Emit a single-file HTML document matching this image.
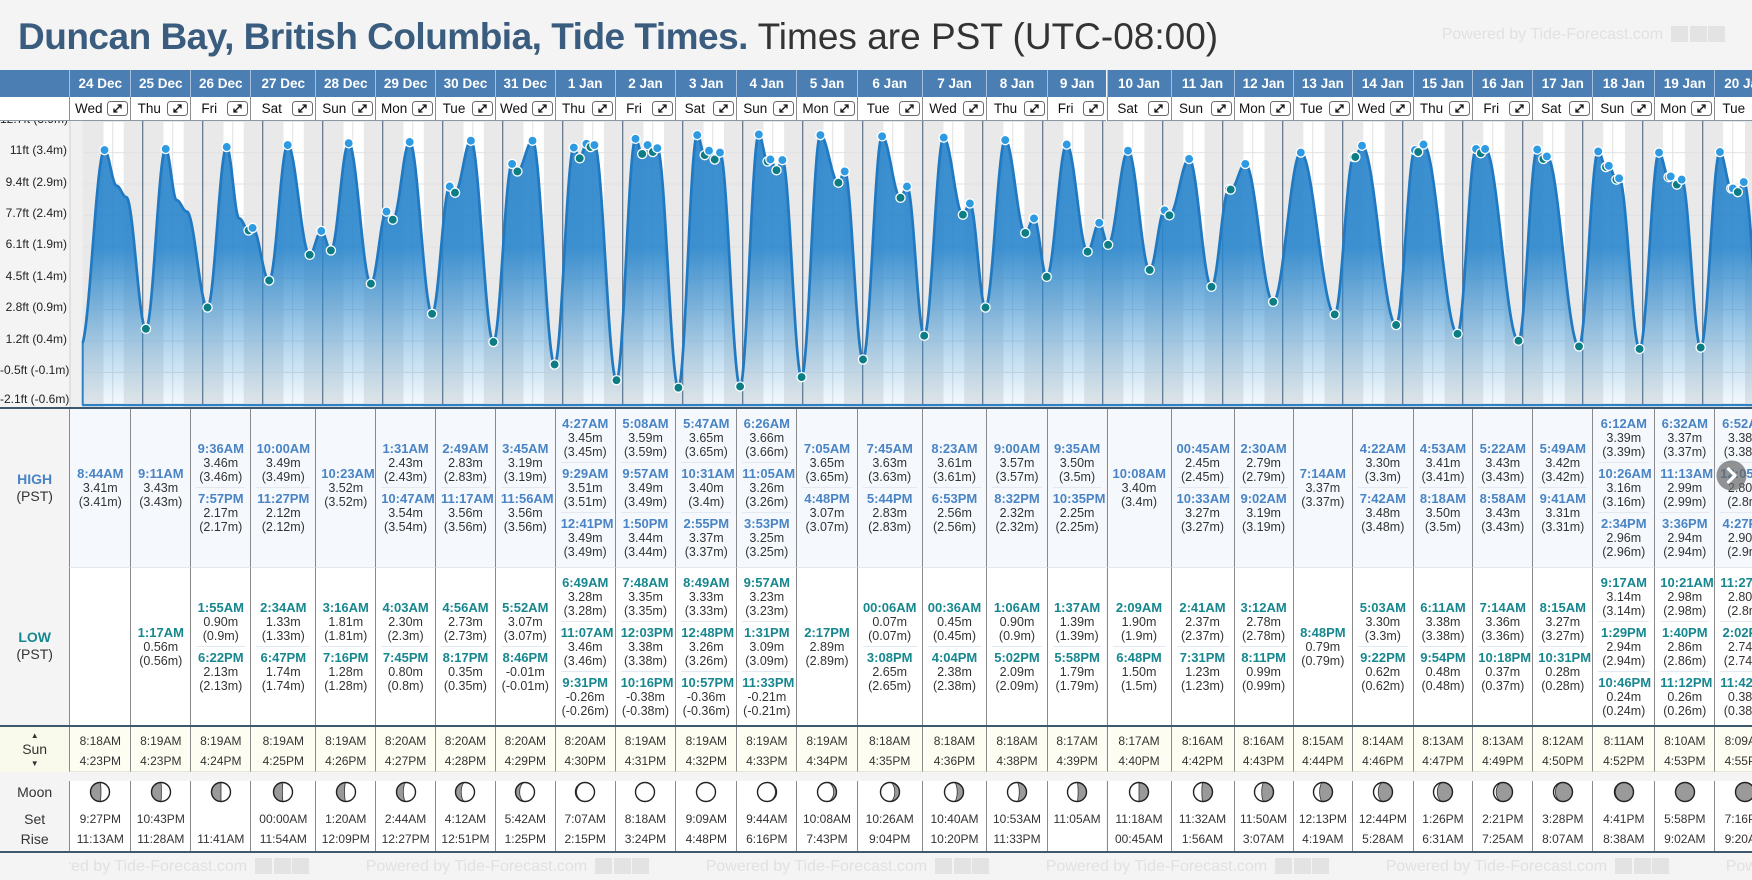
<!DOCTYPE html>
<html><head><meta charset="utf-8"><title>Duncan Bay Tide Times</title>
<style>
html,body{margin:0;padding:0}
body{width:1752px;height:880px;overflow:hidden;background:#f4f4f4;font-family:"Liberation Sans",Arial,sans-serif;position:relative}
.ab{position:absolute}
#title{left:18px;top:18px;height:37px;line-height:37px;font-size:37px;white-space:nowrap}
#title b{color:#3a5c7e;letter-spacing:-0.5px}
#title span{color:#333}
.wm{position:absolute;font-size:16px;color:#e1e1e1;white-space:nowrap;height:18px;line-height:18px}
.wm i{display:inline-block;width:17px;height:16px;background:#e3e3e3;vertical-align:-3px;margin-left:1.5px}
.wm i:first-of-type{margin-left:8px}
.yl{position:absolute;left:0;width:67px;text-align:right;font-size:12px;line-height:14px;height:14px;color:#222;white-space:nowrap}
.col{position:absolute;top:70px}
.dt{height:27px;line-height:27px;background:#4b7fb3;color:#fff;font-weight:bold;font-size:13.5px;text-align:center;border-left:1px solid #a3bfdb;box-sizing:border-box;white-space:nowrap;overflow:hidden}
.dy{height:24px;background:#fff;border-left:1px solid #8e8e8e;border-bottom:1px solid #8a99a6;box-sizing:border-box;display:flex;align-items:center;font-size:13.5px;color:#111}
.dy span{flex:1;text-align:center;white-space:nowrap}
.bt{width:21px;height:15px;margin-right:2px;flex:none;display:block}
.sp{height:287px}
.hi{height:159px;background:#f5f9fd;border-left:1px solid #8a8a8a;box-sizing:border-box;display:flex;flex-direction:column;justify-content:center}
.lo{height:158px;background:#fff;border-left:1px solid #8a8a8a;border-top:1px solid #e3e9ef;box-sizing:border-box;display:flex;flex-direction:column;justify-content:center}
.e{margin:0 5px;padding:4px 0 3px;text-align:center;font-size:12.5px;line-height:14px;color:#333;white-space:nowrap}
.e+.e{border-top:1px solid #e2e9f0}
.e b{display:block;font-size:13px}
.hi .e b{color:#4a84c4}
.lo .e b{color:#17878f}
.g2{height:2px}
.sn{height:45px;background:#fdfdf1;border-left:1px solid #8a8a8a;border-bottom:1px solid #e8e8d8;box-sizing:border-box;font-size:12px;line-height:20px;padding-top:4px;text-align:center;color:#333;white-space:nowrap}
.mo{height:79px;background:#fff;border-left:1px solid #8a8a8a;box-sizing:border-box;text-align:center;font-size:12px;line-height:20px;color:#333;white-space:nowrap}
.mo i{display:block;height:22px;width:22px;margin:9px auto 6px}
.lb{position:absolute;left:0;width:69.3px;display:flex;flex-direction:column;justify-content:center;align-items:center;font-size:14px;line-height:17px;color:#333;background:#f4f4f4;text-align:center}
.dl{position:absolute;left:0;width:1752px;height:2px;background:#3e5870}
</style></head><body>

<svg id="ch" class="ab" style="left:0;top:0" width="1752" height="880"></svg>

<div id="title" class="ab"><b>Duncan Bay, British Columbia, Tide Times.</b> <span>Times are PST (UTC-08:00)</span></div>
<div class="wm" style="left:1441.7px;top:26px">Powered by Tide-Forecast.com<i></i><i></i><i></i></div>

<div class="yl" style="top:111.7px">12.7ft (3.9m)</div>
<div class="yl" style="top:143.1px">11ft (3.4m)</div>
<div class="yl" style="top:174.5px">9.4ft (2.9m)</div>
<div class="yl" style="top:205.9px">7.7ft (2.4m)</div>
<div class="yl" style="top:237.3px">6.1ft (1.9m)</div>
<div class="yl" style="top:268.7px">4.5ft (1.4m)</div>
<div class="yl" style="top:300.1px">2.8ft (0.9m)</div>
<div class="yl" style="top:331.5px">1.2ft (0.4m)</div>
<div class="yl" style="top:362.9px">-0.5ft (-0.1m)</div>
<div class="yl" style="top:392.3px">-2.1ft (-0.6m)</div>

<div class="ab" style="left:0;top:70px;width:69.3px;height:27px;background:#4b7fb3"></div>
<div class="ab" style="left:0;top:97px;width:69.3px;height:24px;background:#fff;border-bottom:1px solid #8a99a6;box-sizing:border-box"></div>

<div class="lb" style="top:408px;height:159px"><b style="color:#4a84c4">HIGH</b><span>(PST)</span></div>
<div class="lb" style="top:567px;height:158px"><b style="color:#17878f">LOW</b><span>(PST)</span></div>
<div class="lb" style="top:727px;height:45px;background:#fafaec;line-height:11px"><span style="font-size:8px">&#9650;</span><span style="font-size:14px;line-height:17px">Sun</span><span style="font-size:8px">&#9660;</span></div>
<div class="lb" style="top:772px;height:79px;justify-content:flex-start;line-height:20px"><span style="margin-top:10px">Moon</span><span style="margin-top:7px">Set</span><span>Rise</span></div>

<div class="col" style="left:69.3px;width:61px"><div class="dt">24 Dec</div><div class="dy"><span>Wed</span><i class="bt"></i></div><div class="sp"></div><div class="hi"><div class="e"><b>8:44AM</b>3.41m<br>(3.41m)</div></div><div class="lo"></div><div class="g2"></div><div class="sn">8:18AM<br>4:23PM</div><div class="mo"><i class="m"></i>9:27PM<br>11:13AM</div></div>

<div class="col" style="left:130.3px;width:60px"><div class="dt">25 Dec</div><div class="dy"><span>Thu</span><i class="bt"></i></div><div class="sp"></div><div class="hi"><div class="e"><b>9:11AM</b>3.43m<br>(3.43m)</div></div><div class="lo"><div class="e"><b>1:17AM</b>0.56m<br>(0.56m)</div></div><div class="g2"></div><div class="sn">8:19AM<br>4:23PM</div><div class="mo"><i class="m"></i>10:43PM<br>11:28AM</div></div>

<div class="col" style="left:190.3px;width:60px"><div class="dt">26 Dec</div><div class="dy"><span>Fri</span><i class="bt"></i></div><div class="sp"></div><div class="hi"><div class="e"><b>9:36AM</b>3.46m<br>(3.46m)</div><div class="e"><b>7:57PM</b>2.17m<br>(2.17m)</div></div><div class="lo"><div class="e"><b>1:55AM</b>0.90m<br>(0.9m)</div><div class="e"><b>6:22PM</b>2.13m<br>(2.13m)</div></div><div class="g2"></div><div class="sn">8:19AM<br>4:24PM</div><div class="mo"><i class="m"></i>&nbsp;<br>11:41AM</div></div>

<div class="col" style="left:250.3px;width:65px"><div class="dt">27 Dec</div><div class="dy"><span>Sat</span><i class="bt"></i></div><div class="sp"></div><div class="hi"><div class="e"><b>10:00AM</b>3.49m<br>(3.49m)</div><div class="e"><b>11:27PM</b>2.12m<br>(2.12m)</div></div><div class="lo"><div class="e"><b>2:34AM</b>1.33m<br>(1.33m)</div><div class="e"><b>6:47PM</b>1.74m<br>(1.74m)</div></div><div class="g2"></div><div class="sn">8:19AM<br>4:25PM</div><div class="mo"><i class="m"></i>00:00AM<br>11:54AM</div></div>

<div class="col" style="left:315.3px;width:59.9px"><div class="dt">28 Dec</div><div class="dy"><span>Sun</span><i class="bt"></i></div><div class="sp"></div><div class="hi"><div class="e"><b>10:23AM</b>3.52m<br>(3.52m)</div></div><div class="lo"><div class="e"><b>3:16AM</b>1.81m<br>(1.81m)</div><div class="e"><b>7:16PM</b>1.28m<br>(1.28m)</div></div><div class="g2"></div><div class="sn">8:19AM<br>4:26PM</div><div class="mo"><i class="m"></i>1:20AM<br>12:09PM</div></div>

<div class="col" style="left:375.2px;width:59.8px"><div class="dt">29 Dec</div><div class="dy"><span>Mon</span><i class="bt"></i></div><div class="sp"></div><div class="hi"><div class="e"><b>1:31AM</b>2.43m<br>(2.43m)</div><div class="e"><b>10:47AM</b>3.54m<br>(3.54m)</div></div><div class="lo"><div class="e"><b>4:03AM</b>2.30m<br>(2.3m)</div><div class="e"><b>7:45PM</b>0.80m<br>(0.8m)</div></div><div class="g2"></div><div class="sn">8:20AM<br>4:27PM</div><div class="mo"><i class="m"></i>2:44AM<br>12:27PM</div></div>

<div class="col" style="left:435px;width:59.9px"><div class="dt">30 Dec</div><div class="dy"><span>Tue</span><i class="bt"></i></div><div class="sp"></div><div class="hi"><div class="e"><b>2:49AM</b>2.83m<br>(2.83m)</div><div class="e"><b>11:17AM</b>3.56m<br>(3.56m)</div></div><div class="lo"><div class="e"><b>4:56AM</b>2.73m<br>(2.73m)</div><div class="e"><b>8:17PM</b>0.35m<br>(0.35m)</div></div><div class="g2"></div><div class="sn">8:20AM<br>4:28PM</div><div class="mo"><i class="m"></i>4:12AM<br>12:51PM</div></div>

<div class="col" style="left:494.9px;width:59.8px"><div class="dt">31 Dec</div><div class="dy"><span>Wed</span><i class="bt"></i></div><div class="sp"></div><div class="hi"><div class="e"><b>3:45AM</b>3.19m<br>(3.19m)</div><div class="e"><b>11:56AM</b>3.56m<br>(3.56m)</div></div><div class="lo"><div class="e"><b>5:52AM</b>3.07m<br>(3.07m)</div><div class="e"><b>8:46PM</b>-0.01m<br>(-0.01m)</div></div><div class="g2"></div><div class="sn">8:20AM<br>4:29PM</div><div class="mo"><i class="m"></i>5:42AM<br>1:25PM</div></div>

<div class="col" style="left:554.7px;width:60px"><div class="dt">1 Jan</div><div class="dy"><span>Thu</span><i class="bt"></i></div><div class="sp"></div><div class="hi"><div class="e"><b>4:27AM</b>3.45m<br>(3.45m)</div><div class="e"><b>9:29AM</b>3.51m<br>(3.51m)</div><div class="e"><b>12:41PM</b>3.49m<br>(3.49m)</div></div><div class="lo"><div class="e"><b>6:49AM</b>3.28m<br>(3.28m)</div><div class="e"><b>11:07AM</b>3.46m<br>(3.46m)</div><div class="e"><b>9:31PM</b>-0.26m<br>(-0.26m)</div></div><div class="g2"></div><div class="sn">8:20AM<br>4:30PM</div><div class="mo"><i class="m"></i>7:07AM<br>2:15PM</div></div>

<div class="col" style="left:614.7px;width:60.6px"><div class="dt">2 Jan</div><div class="dy"><span>Fri</span><i class="bt"></i></div><div class="sp"></div><div class="hi"><div class="e"><b>5:08AM</b>3.59m<br>(3.59m)</div><div class="e"><b>9:57AM</b>3.49m<br>(3.49m)</div><div class="e"><b>1:50PM</b>3.44m<br>(3.44m)</div></div><div class="lo"><div class="e"><b>7:48AM</b>3.35m<br>(3.35m)</div><div class="e"><b>12:03PM</b>3.38m<br>(3.38m)</div><div class="e"><b>10:16PM</b>-0.38m<br>(-0.38m)</div></div><div class="g2"></div><div class="sn">8:19AM<br>4:31PM</div><div class="mo"><i class="m"></i>8:18AM<br>3:24PM</div></div>

<div class="col" style="left:675.3px;width:61px"><div class="dt">3 Jan</div><div class="dy"><span>Sat</span><i class="bt"></i></div><div class="sp"></div><div class="hi"><div class="e"><b>5:47AM</b>3.65m<br>(3.65m)</div><div class="e"><b>10:31AM</b>3.40m<br>(3.4m)</div><div class="e"><b>2:55PM</b>3.37m<br>(3.37m)</div></div><div class="lo"><div class="e"><b>8:49AM</b>3.33m<br>(3.33m)</div><div class="e"><b>12:48PM</b>3.26m<br>(3.26m)</div><div class="e"><b>10:57PM</b>-0.36m<br>(-0.36m)</div></div><div class="g2"></div><div class="sn">8:19AM<br>4:32PM</div><div class="mo"><i class="m"></i>9:09AM<br>4:48PM</div></div>

<div class="col" style="left:736.3px;width:60px"><div class="dt">4 Jan</div><div class="dy"><span>Sun</span><i class="bt"></i></div><div class="sp"></div><div class="hi"><div class="e"><b>6:26AM</b>3.66m<br>(3.66m)</div><div class="e"><b>11:05AM</b>3.26m<br>(3.26m)</div><div class="e"><b>3:53PM</b>3.25m<br>(3.25m)</div></div><div class="lo"><div class="e"><b>9:57AM</b>3.23m<br>(3.23m)</div><div class="e"><b>1:31PM</b>3.09m<br>(3.09m)</div><div class="e"><b>11:33PM</b>-0.21m<br>(-0.21m)</div></div><div class="g2"></div><div class="sn">8:19AM<br>4:33PM</div><div class="mo"><i class="m"></i>9:44AM<br>6:16PM</div></div>

<div class="col" style="left:796.3px;width:60.4px"><div class="dt">5 Jan</div><div class="dy"><span>Mon</span><i class="bt"></i></div><div class="sp"></div><div class="hi"><div class="e"><b>7:05AM</b>3.65m<br>(3.65m)</div><div class="e"><b>4:48PM</b>3.07m<br>(3.07m)</div></div><div class="lo"><div class="e"><b>2:17PM</b>2.89m<br>(2.89m)</div></div><div class="g2"></div><div class="sn">8:19AM<br>4:34PM</div><div class="mo"><i class="m"></i>10:08AM<br>7:43PM</div></div>

<div class="col" style="left:856.7px;width:65px"><div class="dt">6 Jan</div><div class="dy"><span>Tue</span><i class="bt"></i></div><div class="sp"></div><div class="hi"><div class="e"><b>7:45AM</b>3.63m<br>(3.63m)</div><div class="e"><b>5:44PM</b>2.83m<br>(2.83m)</div></div><div class="lo"><div class="e"><b>00:06AM</b>0.07m<br>(0.07m)</div><div class="e"><b>3:08PM</b>2.65m<br>(2.65m)</div></div><div class="g2"></div><div class="sn">8:18AM<br>4:35PM</div><div class="mo"><i class="m"></i>10:26AM<br>9:04PM</div></div>

<div class="col" style="left:921.7px;width:64.6px"><div class="dt">7 Jan</div><div class="dy"><span>Wed</span><i class="bt"></i></div><div class="sp"></div><div class="hi"><div class="e"><b>8:23AM</b>3.61m<br>(3.61m)</div><div class="e"><b>6:53PM</b>2.56m<br>(2.56m)</div></div><div class="lo"><div class="e"><b>00:36AM</b>0.45m<br>(0.45m)</div><div class="e"><b>4:04PM</b>2.38m<br>(2.38m)</div></div><div class="g2"></div><div class="sn">8:18AM<br>4:36PM</div><div class="mo"><i class="m"></i>10:40AM<br>10:20PM</div></div>

<div class="col" style="left:986.3px;width:60.4px"><div class="dt">8 Jan</div><div class="dy"><span>Thu</span><i class="bt"></i></div><div class="sp"></div><div class="hi"><div class="e"><b>9:00AM</b>3.57m<br>(3.57m)</div><div class="e"><b>8:32PM</b>2.32m<br>(2.32m)</div></div><div class="lo"><div class="e"><b>1:06AM</b>0.90m<br>(0.9m)</div><div class="e"><b>5:02PM</b>2.09m<br>(2.09m)</div></div><div class="g2"></div><div class="sn">8:18AM<br>4:38PM</div><div class="mo"><i class="m"></i>10:53AM<br>11:33PM</div></div>

<div class="col" style="left:1046.7px;width:59.8px"><div class="dt">9 Jan</div><div class="dy"><span>Fri</span><i class="bt"></i></div><div class="sp"></div><div class="hi"><div class="e"><b>9:35AM</b>3.50m<br>(3.5m)</div><div class="e"><b>10:35PM</b>2.25m<br>(2.25m)</div></div><div class="lo"><div class="e"><b>1:37AM</b>1.39m<br>(1.39m)</div><div class="e"><b>5:58PM</b>1.79m<br>(1.79m)</div></div><div class="g2"></div><div class="sn">8:17AM<br>4:39PM</div><div class="mo"><i class="m"></i>11:05AM<br>&nbsp;</div></div>

<div class="col" style="left:1106.5px;width:64px"><div class="dt">10 Jan</div><div class="dy"><span>Sat</span><i class="bt"></i></div><div class="sp"></div><div class="hi"><div class="e"><b>10:08AM</b>3.40m<br>(3.4m)</div></div><div class="lo"><div class="e"><b>2:09AM</b>1.90m<br>(1.9m)</div><div class="e"><b>6:48PM</b>1.50m<br>(1.5m)</div></div><div class="g2"></div><div class="sn">8:17AM<br>4:40PM</div><div class="mo"><i class="m"></i>11:18AM<br>00:45AM</div></div>

<div class="col" style="left:1170.5px;width:63px"><div class="dt">11 Jan</div><div class="dy"><span>Sun</span><i class="bt"></i></div><div class="sp"></div><div class="hi"><div class="e"><b>00:45AM</b>2.45m<br>(2.45m)</div><div class="e"><b>10:33AM</b>3.27m<br>(3.27m)</div></div><div class="lo"><div class="e"><b>2:41AM</b>2.37m<br>(2.37m)</div><div class="e"><b>7:31PM</b>1.23m<br>(1.23m)</div></div><div class="g2"></div><div class="sn">8:16AM<br>4:42PM</div><div class="mo"><i class="m"></i>11:32AM<br>1:56AM</div></div>

<div class="col" style="left:1233.5px;width:59.2px"><div class="dt">12 Jan</div><div class="dy"><span>Mon</span><i class="bt"></i></div><div class="sp"></div><div class="hi"><div class="e"><b>2:30AM</b>2.79m<br>(2.79m)</div><div class="e"><b>9:02AM</b>3.19m<br>(3.19m)</div></div><div class="lo"><div class="e"><b>3:12AM</b>2.78m<br>(2.78m)</div><div class="e"><b>8:11PM</b>0.99m<br>(0.99m)</div></div><div class="g2"></div><div class="sn">8:16AM<br>4:43PM</div><div class="mo"><i class="m"></i>11:50AM<br>3:07AM</div></div>

<div class="col" style="left:1292.7px;width:59.3px"><div class="dt">13 Jan</div><div class="dy"><span>Tue</span><i class="bt"></i></div><div class="sp"></div><div class="hi"><div class="e"><b>7:14AM</b>3.37m<br>(3.37m)</div></div><div class="lo"><div class="e"><b>8:48PM</b>0.79m<br>(0.79m)</div></div><div class="g2"></div><div class="sn">8:15AM<br>4:44PM</div><div class="mo"><i class="m"></i>12:13PM<br>4:19AM</div></div>

<div class="col" style="left:1352px;width:60.7px"><div class="dt">14 Jan</div><div class="dy"><span>Wed</span><i class="bt"></i></div><div class="sp"></div><div class="hi"><div class="e"><b>4:22AM</b>3.30m<br>(3.3m)</div><div class="e"><b>7:42AM</b>3.48m<br>(3.48m)</div></div><div class="lo"><div class="e"><b>5:03AM</b>3.30m<br>(3.3m)</div><div class="e"><b>9:22PM</b>0.62m<br>(0.62m)</div></div><div class="g2"></div><div class="sn">8:14AM<br>4:46PM</div><div class="mo"><i class="m"></i>12:44PM<br>5:28AM</div></div>

<div class="col" style="left:1412.7px;width:59.6px"><div class="dt">15 Jan</div><div class="dy"><span>Thu</span><i class="bt"></i></div><div class="sp"></div><div class="hi"><div class="e"><b>4:53AM</b>3.41m<br>(3.41m)</div><div class="e"><b>8:18AM</b>3.50m<br>(3.5m)</div></div><div class="lo"><div class="e"><b>6:11AM</b>3.38m<br>(3.38m)</div><div class="e"><b>9:54PM</b>0.48m<br>(0.48m)</div></div><div class="g2"></div><div class="sn">8:13AM<br>4:47PM</div><div class="mo"><i class="m"></i>1:26PM<br>6:31AM</div></div>

<div class="col" style="left:1472.3px;width:60px"><div class="dt">16 Jan</div><div class="dy"><span>Fri</span><i class="bt"></i></div><div class="sp"></div><div class="hi"><div class="e"><b>5:22AM</b>3.43m<br>(3.43m)</div><div class="e"><b>8:58AM</b>3.43m<br>(3.43m)</div></div><div class="lo"><div class="e"><b>7:14AM</b>3.36m<br>(3.36m)</div><div class="e"><b>10:18PM</b>0.37m<br>(0.37m)</div></div><div class="g2"></div><div class="sn">8:13AM<br>4:49PM</div><div class="mo"><i class="m"></i>2:21PM<br>7:25AM</div></div>

<div class="col" style="left:1532.3px;width:60px"><div class="dt">17 Jan</div><div class="dy"><span>Sat</span><i class="bt"></i></div><div class="sp"></div><div class="hi"><div class="e"><b>5:49AM</b>3.42m<br>(3.42m)</div><div class="e"><b>9:41AM</b>3.31m<br>(3.31m)</div></div><div class="lo"><div class="e"><b>8:15AM</b>3.27m<br>(3.27m)</div><div class="e"><b>10:31PM</b>0.28m<br>(0.28m)</div></div><div class="g2"></div><div class="sn">8:12AM<br>4:50PM</div><div class="mo"><i class="m"></i>3:28PM<br>8:07AM</div></div>

<div class="col" style="left:1592.3px;width:62px"><div class="dt">18 Jan</div><div class="dy"><span>Sun</span><i class="bt"></i></div><div class="sp"></div><div class="hi"><div class="e"><b>6:12AM</b>3.39m<br>(3.39m)</div><div class="e"><b>10:26AM</b>3.16m<br>(3.16m)</div><div class="e"><b>2:34PM</b>2.96m<br>(2.96m)</div></div><div class="lo"><div class="e"><b>9:17AM</b>3.14m<br>(3.14m)</div><div class="e"><b>1:29PM</b>2.94m<br>(2.94m)</div><div class="e"><b>10:46PM</b>0.24m<br>(0.24m)</div></div><div class="g2"></div><div class="sn">8:11AM<br>4:52PM</div><div class="mo"><i class="m"></i>4:41PM<br>8:38AM</div></div>

<div class="col" style="left:1654.3px;width:60px"><div class="dt">19 Jan</div><div class="dy"><span>Mon</span><i class="bt"></i></div><div class="sp"></div><div class="hi"><div class="e"><b>6:32AM</b>3.37m<br>(3.37m)</div><div class="e"><b>11:13AM</b>2.99m<br>(2.99m)</div><div class="e"><b>3:36PM</b>2.94m<br>(2.94m)</div></div><div class="lo"><div class="e"><b>10:21AM</b>2.98m<br>(2.98m)</div><div class="e"><b>1:40PM</b>2.86m<br>(2.86m)</div><div class="e"><b>11:12PM</b>0.26m<br>(0.26m)</div></div><div class="g2"></div><div class="sn">8:10AM<br>4:53PM</div><div class="mo"><i class="m"></i>5:58PM<br>9:02AM</div></div>

<div class="col" style="left:1714.3px;width:61px"><div class="dt">20 Jan</div><div class="dy"><span>Tue</span><i class="bt"></i></div><div class="sp"></div><div class="hi"><div class="e"><b>6:52AM</b>3.38m<br>(3.38m)</div><div class="e"><b>12:05PM</b>2.80m<br>(2.8m)</div><div class="e"><b>4:27PM</b>2.90m<br>(2.9m)</div></div><div class="lo"><div class="e"><b>11:27AM</b>2.80m<br>(2.8m)</div><div class="e"><b>2:02PM</b>2.74m<br>(2.74m)</div><div class="e"><b>11:42PM</b>0.38m<br>(0.38m)</div></div><div class="g2"></div><div class="sn">8:09AM<br>4:55PM</div><div class="mo"><i class="m"></i>7:16PM<br>9:20AM</div></div>

<div class="dl" style="top:406.5px"></div>
<div class="dl" style="top:725px"></div>
<div class="dl" style="top:851px"></div>

<div class="ab" style="left:69.3px;top:853px;width:1683px;height:27px;overflow:hidden;background:#f4f4f4">
<div class="wm" style="left:-43.6px;top:5px">Powered by Tide-Forecast.com<i></i><i></i><i></i></div>
<div class="wm" style="left:296.4px;top:5px">Powered by Tide-Forecast.com<i></i><i></i><i></i></div>
<div class="wm" style="left:636.4px;top:5px">Powered by Tide-Forecast.com<i></i><i></i><i></i></div>
<div class="wm" style="left:976.4px;top:5px">Powered by Tide-Forecast.com<i></i><i></i><i></i></div>
<div class="wm" style="left:1316.4px;top:5px">Powered by Tide-Forecast.com<i></i><i></i><i></i></div>
<div class="wm" style="left:1656.4px;top:5px">Powered by Tide-Forecast.com<i></i><i></i><i></i></div>
</div>

<svg class="ab" style="left:1716px;top:460px" width="31" height="31"><circle cx="15.5" cy="15.5" r="15" fill="rgba(105,105,105,0.72)"/><path d="M12.5 9 L19 15.5 L12.5 22" stroke="#fff" stroke-width="3.2" fill="none" stroke-linecap="round" stroke-linejoin="round"/></svg>

<script>
(function(){
var X0=82.7,DX=60;
function Y(m){return 121.2+(3.871-m)*62.7;}
var sr=[8.30,8.317,8.317,8.317,8.317,8.333,8.333,8.333,8.333,8.317,8.317,8.317,8.317,8.30,8.30,8.30,8.283,8.283,8.267,8.267,8.25,8.233,8.217,8.217,8.20,8.183,8.167,8.15];
var ss=[16.383,16.383,16.40,16.417,16.433,16.45,16.467,16.483,16.50,16.517,16.533,16.55,16.567,16.583,16.60,16.633,16.65,16.667,16.70,16.717,16.733,16.767,16.783,16.817,16.833,16.867,16.883,16.917];
var E=[
[-1,23.2,0.28,'L',1],[0,8.733,3.41,'H'],[0,13.6,2.84,'L',1],[0,17.4,2.66,'L',1],
[1,1.283,0.56,'L'],[1,9.183,3.43,'H'],[1,13.6,2.61,'L',1],[1,17.6,2.43,'L',1],
[2,1.917,0.90,'L'],[2,9.6,3.46,'H'],[2,14.6,2.32,'L',1],[2,18.367,2.13,'L'],[2,19.95,2.17,'H'],
[3,2.567,1.33,'L'],[3,10.0,3.49,'H'],[3,18.783,1.74,'L'],[3,23.45,2.12,'H'],
[4,3.267,1.81,'L'],[4,10.383,3.52,'H'],[4,19.267,1.28,'L'],
[5,1.517,2.43,'H'],[5,4.05,2.30,'L'],[5,10.783,3.54,'H'],[5,19.75,0.80,'L'],
[6,2.817,2.83,'H'],[6,4.933,2.73,'L'],[6,11.283,3.56,'H'],[6,20.283,0.35,'L'],
[7,3.75,3.19,'H'],[7,5.867,3.07,'L'],[7,11.933,3.56,'H'],[7,20.767,-0.01,'L'],
[8,4.45,3.45,'H'],[8,6.817,3.28,'L'],[8,9.483,3.51,'H'],[8,11.117,3.46,'L'],[8,12.683,3.49,'H'],[8,21.517,-0.26,'L'],
[9,5.133,3.59,'H'],[9,7.8,3.35,'L'],[9,9.95,3.49,'H'],[9,12.05,3.38,'L'],[9,13.833,3.44,'H'],[9,22.267,-0.38,'L'],
[10,5.783,3.65,'H'],[10,8.817,3.33,'L'],[10,10.517,3.40,'H'],[10,12.8,3.26,'L'],[10,14.917,3.37,'H'],[10,22.95,-0.36,'L'],
[11,6.433,3.66,'H'],[11,9.95,3.23,'L'],[11,11.083,3.26,'H'],[11,13.517,3.09,'L'],[11,15.883,3.25,'H'],[11,23.55,-0.21,'L'],
[12,7.083,3.65,'H'],[12,14.283,2.89,'L'],[12,16.8,3.07,'H'],
[13,0.1,0.07,'L'],[13,7.75,3.63,'H'],[13,15.133,2.65,'L'],[13,17.733,2.83,'H'],
[14,0.6,0.45,'L'],[14,8.383,3.61,'H'],[14,16.067,2.38,'L'],[14,18.883,2.56,'H'],
[15,1.1,0.90,'L'],[15,9.0,3.57,'H'],[15,17.033,2.09,'L'],[15,20.533,2.32,'H'],
[16,1.617,1.39,'L'],[16,9.583,3.50,'H'],[16,17.967,1.79,'L'],[16,22.583,2.25,'H'],
[17,2.15,1.90,'L'],[17,10.133,3.40,'H'],[17,18.8,1.50,'L'],
[18,0.75,2.45,'H'],[18,2.683,2.37,'L'],[18,10.55,3.27,'H'],[18,19.517,1.23,'L'],
[19,2.5,2.79,'H'],[19,3.2,2.78,'L'],[19,9.033,3.19,'H'],[19,20.183,0.99,'L'],
[20,7.233,3.37,'H'],[20,20.8,0.79,'L'],
[21,4.367,3.30,'H'],[21,5.05,3.30,'L'],[21,7.7,3.48,'H'],[21,21.367,0.62,'L'],
[22,4.883,3.41,'H'],[22,6.183,3.38,'L'],[22,8.3,3.50,'H'],[22,21.9,0.48,'L'],
[23,5.367,3.43,'H'],[23,7.233,3.36,'L'],[23,8.967,3.43,'H'],[23,22.3,0.37,'L'],
[24,5.817,3.42,'H'],[24,8.25,3.27,'L'],[24,9.683,3.31,'H'],[24,22.517,0.28,'L'],
[25,6.2,3.39,'H'],[25,9.283,3.14,'L'],[25,10.433,3.16,'H'],[25,13.483,2.94,'L'],[25,14.567,2.96,'H'],[25,22.767,0.24,'L'],
[26,6.533,3.37,'H'],[26,10.35,2.98,'L'],[26,11.217,2.99,'H'],[26,13.667,2.86,'L'],[26,15.6,2.94,'H'],[26,23.2,0.26,'L'],
[27,6.867,3.38,'H'],[27,11.45,2.80,'L'],[27,12.083,2.80,'H'],[27,14.033,2.74,'L'],[27,16.45,2.90,'H'],[27,23.7,0.38,'L'],
[28,6.0,3.2,'H',1]
];
var T=E.map(function(e){return e[0]+e[1]/24;});
function val(t){
  for(var i=0;i<T.length-1;i++){
    if(t>=T[i]&&t<=T[i+1]){
      var f=(t-T[i])/(T[i+1]-T[i]);
      return E[i][2]+(E[i+1][2]-E[i][2])*(1-Math.cos(Math.PI*f))/2;
    }
  }
  return E[E.length-1][2];
}
var s='';
s+='<defs><clipPath id="cp"><rect x="69.3" y="121" width="1683" height="286"/></clipPath>';
s+='<linearGradient id="gf" gradientUnits="userSpaceOnUse" x1="0" y1="121" x2="0" y2="405">';
s+='<stop offset="0" stop-color="#2884cb" stop-opacity=".92"/><stop offset=".45" stop-color="#2a86cc" stop-opacity=".9"/><stop offset=".63" stop-color="#2c88cd" stop-opacity=".62"/><stop offset=".81" stop-color="#3390d2" stop-opacity=".34"/><stop offset=".95" stop-color="#3a96d6" stop-opacity=".13"/><stop offset="1" stop-color="#3a96d6" stop-opacity=".06"/>';
s+='</linearGradient></defs><g clip-path="url(#cp)">';
s+='<rect x="69.3" y="121" width="1683" height="286" fill="#e9e9e9"/>';
s+='<rect x="69.3" y="121" width="13.4" height="286" fill="#f0f0f0"/>';
s+='<line x1="70" y1="121" x2="70" y2="407" stroke="#d0d0d0" stroke-width="1"/>';
for(var d=0;d<28;d++){
  var a=X0+DX*(d+sr[d]/24),b=X0+DX*(d+ss[d]/24);
  s+='<rect x="'+a.toFixed(1)+'" y="121" width="'+(b-a).toFixed(1)+'" height="286" fill="#fff"/>';
}
for(var i=0;i<10;i++){
  var y=121.2+31.4*i;
  s+='<line x1="82.7" y1="'+y.toFixed(1)+'" x2="1752" y2="'+y.toFixed(1)+'" stroke="#e2e2e2" stroke-width="1"/>';
}
for(var d=0;d<28;d++){
  var x=X0+DX*d+30;
  s+='<line x1="'+x+'" y1="121" x2="'+x+'" y2="405" stroke="#e2e2e2" stroke-width="1"/>';
}
for(var d=1;d<28;d++){
  var x=X0+DX*d;
  s+='<line x1="'+x+'" y1="121" x2="'+x+'" y2="405" stroke="#5d7186" stroke-width="1.2"/>';
}
var pts=[];
for(var x=X0;x<=1754;x+=0.5){
  var t=(x-X0)/DX;
  pts.push(x.toFixed(1)+','+Y(val(t)).toFixed(1));
}
s+='<path d="M82.7,405 L'+pts.join(' L')+' L1754,405 Z" fill="url(#gf)"/>';
s+='<path d="M'+pts.join(' L')+'" fill="none" stroke="#2079c1" stroke-width="2.7" stroke-linejoin="round"/>';
s+='<line x1="82.7" y1="405" x2="82.7" y2="'+Y(val(0)).toFixed(1)+'" stroke="#2d83c6" stroke-width="2"/>';
s+='<rect x="82" y="404" width="1672" height="2.2" fill="#2d83c6"/>';
for(var i=0;i<E.length;i++){
  if(E[i][4])continue;
  var x=X0+DX*T[i];
  s+='<circle cx="'+x.toFixed(1)+'" cy="'+Y(E[i][2]).toFixed(1)+'" r="4.6" fill="'+(E[i][3]=='H'?'#2e9ae2':'#0c7d85')+'" stroke="#fff" stroke-width="1.3"/>';
}
s+='</g>';
document.getElementById('ch').innerHTML=s;

var btn='<svg width="21" height="15"><rect x=".5" y=".5" width="20" height="14" rx="3" fill="#fff" stroke="#6a6a6a"/><path d="M7 11L14 4M10.5 4H14V7.5M7 7.5V11H10.5" stroke="#111" stroke-width="1.3" fill="none"/></svg>';
var bs=document.querySelectorAll('.bt');
for(var i=0;i<bs.length;i++)bs[i].innerHTML=btn;

var MP=[['L',.55],['L',.52],['L',.5],['L',.47],['L',.42],['L',.36],['L',.3],['L',.22],['L',.06],['L',0],['L',0],['R',.06],['R',.15],['R',.25],['R',.33],['R',.38],['R',.44],['R',.5],['R',.56],['R',.62],['R',.68],['R',.75],['R',.8],['R',.86],['R',.9],['R',.95],['R',1],['R',1]];
var ms=document.querySelectorAll('.m');
for(var i=0;i<ms.length;i++){
  var side=MP[i][0],g=MP[i][1],r=9.5,rx=(r*Math.abs(1-2*g)).toFixed(2);
  var h='<svg width="22" height="22"><circle cx="11" cy="11" r="9.5" fill="#fff"/>';
  if(g>=0.999){h+='<circle cx="11" cy="11" r="9.5" fill="#9a9a9a"/>';}
  else if(g>0.001){
    var p;
    if(side=='L'){p='M11,1.5 A9.5,9.5 0 0 0 11,20.5 A'+rx+',9.5 0 0 '+(g>0.5?0:1)+' 11,1.5 Z';}
    else{p='M11,1.5 A9.5,9.5 0 0 1 11,20.5 A'+rx+',9.5 0 0 '+(g>0.5?1:0)+' 11,1.5 Z';}
    h+='<path d="'+p+'" fill="#9a9a9a" stroke="#333" stroke-width="0.8"/>';
  }
  h+='<circle cx="11" cy="11" r="9.5" fill="none" stroke="#222" stroke-width="1.4"/></svg>';
  ms[i].innerHTML=h;
}
})();
</script>
</body></html>
